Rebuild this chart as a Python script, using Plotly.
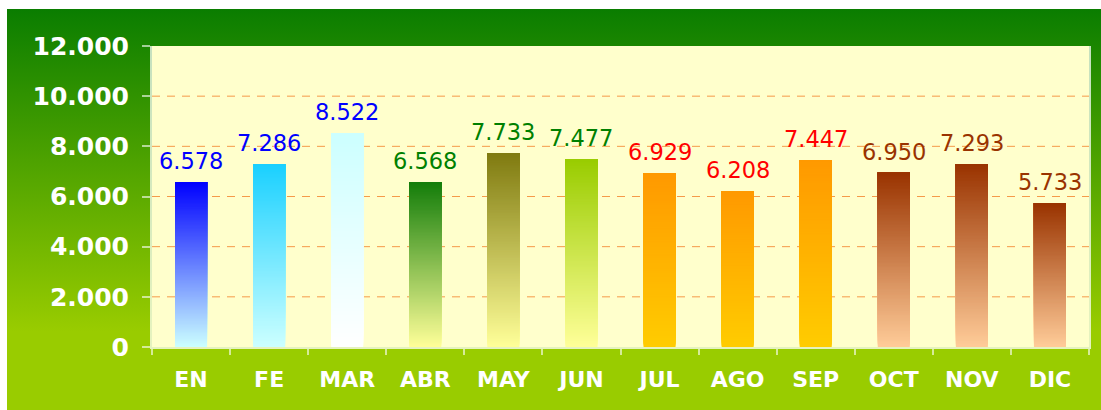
import base64
import plotly.graph_objects as go

# ---- data ----
months = ["EN", "FE", "MAR", "ABR", "MAY", "JUN", "JUL", "AGO", "SEP", "OCT", "NOV", "DIC"]
values = [6578, 7286, 8522, 6568, 7733, 7477, 6929, 6208, 7447, 6950, 7293, 5733]
top_colors = ["#0000ff", "#1ad0ff", "#ccffff", "#137d0a", "#7f7a10", "#99cc00",
              "#ff9900", "#ff9900", "#ff9900", "#993300", "#993300", "#993300"]
bottom_colors = ["#ccffff", "#ccffff", "#ffffff", "#ffff99", "#ffff99", "#ffff99",
                 "#ffcc00", "#ffcc00", "#ffcc00", "#ffcc99", "#ffcc99", "#ffcc99"]
label_colors = ["#0000ff"] * 3 + ["#008000"] * 3 + ["#ff0000"] * 3 + ["#993300"] * 3
y_ticks = [0, 2000, 4000, 6000, 8000, 10000, 12000]

W, H = 1101, 410
L, R, T, B = 152, 12, 46, 63
pw, ph = W - L - R, H - T - B


def hex2rgb(h):
    h = h.lstrip("#")
    return tuple(int(h[i:i + 2], 16) for i in (0, 2, 4))


def mix(c_top, c_bot, f):  # f = 0 bottom, 1 top
    a, b = hex2rgb(c_bot), hex2rgb(c_top)
    return "rgb(%d,%d,%d)" % tuple(round(a[i] + (b[i] - a[i]) * f) for i in range(3))


# gradient bars built from overlapping segments
N = 120
xs, bases, hs, cols = [], [], [], []
for m, v, ct, cb in zip(months, values, top_colors, bottom_colors):
    for i in range(N):
        b0 = v * i / N
        xs.append(m)
        bases.append(b0)
        hs.append(v - b0)
        cols.append(mix(ct, cb, (i + 0.5) / N))

fig = go.Figure()
fig.add_trace(go.Bar(x=xs, y=hs, base=bases, width=0.41,
                     marker=dict(color=cols, line=dict(width=0)),
                     hoverinfo="skip", showlegend=False))

# value labels
for m, v, c in zip(months, values, label_colors):
    fig.add_annotation(x=m, y=v, text=f"{v:,}".replace(",", "."), showarrow=False,
                       yanchor="bottom", yshift=6,
                       font=dict(family="DejaVu Sans", size=22.5, color=c))

# green gradient background
svg = ('<svg xmlns="http://www.w3.org/2000/svg" width="1094" height="401" preserveAspectRatio="none">'
       '<defs><linearGradient id="g" x1="0" y1="0" x2="0" y2="1">'
       '<stop offset="0" stop-color="#0a7d00"/><stop offset="0.8" stop-color="#99cc00"/>'
       '<stop offset="1" stop-color="#99cc00"/></linearGradient></defs>'
       '<rect x="0" y="0" width="1094" height="401" fill="url(#g)"/></svg>')
src = "data:image/svg+xml;base64," + base64.b64encode(svg.encode()).decode()
gx0, gy0 = 7, 9
fig.add_layout_image(source=src, xref="paper", yref="paper",
                     x=(gx0 - L) / pw, y=(H - B - gy0) / ph,
                     sizex=(W - gx0 + 20) / pw, sizey=(H - gy0 + 2) / ph,
                     xanchor="left", yanchor="top", sizing="stretch", layer="below")
fig.add_shape(type="rect", xref="paper", yref="paper", x0=0, x1=1, y0=0, y1=1,
              fillcolor="#ffffcc", line=dict(width=0), layer="below")
# dashed gridlines (interior ticks only)
for t in y_ticks[1:-1]:
    fig.add_shape(type="line", xref="paper", yref="y", x0=0, x1=1, y0=t, y1=t,
                  line=dict(color="#f59a4a", width=1, dash="8px,7px"), layer="below")

fig.update_layout(
    width=W, height=H,
    margin=dict(l=L, r=R, t=T, b=B, pad=0),
    paper_bgcolor="white", plot_bgcolor="rgba(0,0,0,0)",
    separators=",.",
    barmode="overlay",
    showlegend=False,
    font=dict(family="DejaVu Sans"),
)
fig.update_xaxes(
    categoryorder="array", categoryarray=months,
    showline=True, linecolor="rgba(255,255,255,0.75)", linewidth=2,
    ticks="outside", tickson="boundaries", ticklen=6, tickwidth=2,
    tickcolor="rgba(255,255,255,0.6)",
    tickfont=dict(family="DejaVu Sans", size=22, color="white", weight="bold"),
    ticklabelstandoff=12, automargin=False, showgrid=False,
)
fig.update_yaxes(
    range=[0, 12000], tickvals=y_ticks, tickformat=",d",
    showline=True, linecolor="rgba(255,255,255,0.75)", linewidth=2, mirror=True,
    ticks="outside", ticklen=8, tickwidth=2, tickcolor="rgba(255,255,255,0.6)",
    tickfont=dict(family="DejaVu Sans", size=25, color="white", weight="bold"),
    ticklabelstandoff=8, automargin=False,
    showgrid=False, zeroline=False,
)

fig.write_html("out.html", config={"displayModeBar": False},
               post_script="document.body.style.margin='0';document.body.style.overflow='hidden';")
